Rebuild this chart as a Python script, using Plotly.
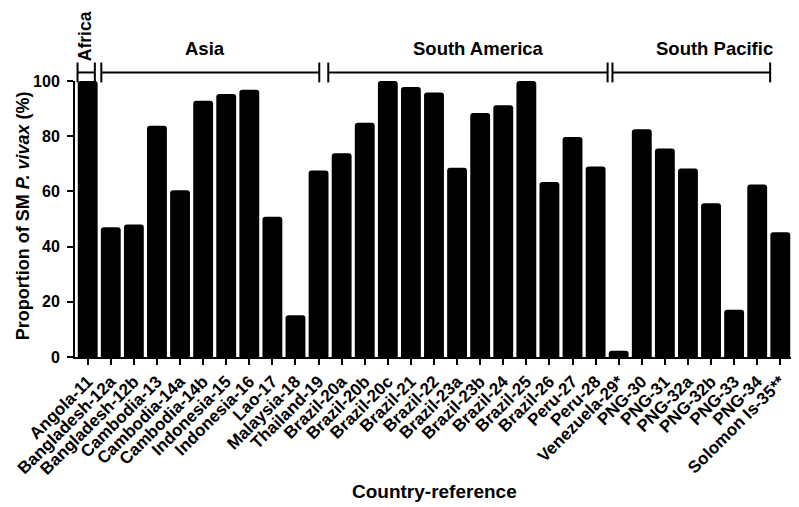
import plotly.graph_objects as go

categories = ["Angola-11", "Bangladesh-12a", "Bangladesh-12b", "Cambodia-13", "Cambodia-14a",
              "Cambodia-14b", "Indonesia-15", "Indonesia-16", "Lao-17", "Malaysia-18",
              "Thailand-19", "Brazil-20a", "Brazil-20b", "Brazil-20c", "Brazil-21", "Brazil-22",
              "Brazil-23a", "Brazil-23b", "Brazil-24", "Brazil-25", "Brazil-26", "Peru-27",
              "Peru-28", "Venezuela-29*", "PNG-30", "PNG-31", "PNG-32a", "PNG-32b", "PNG-33",
              "PNG-34", "Solomon Is-35**"]
values = [100, 47, 48, 83.8, 60.4, 92.8, 95.3, 96.8, 50.8, 15.1, 67.6,
          73.8, 84.9, 100, 97.8, 95.8, 68.6, 88.4, 91.2, 100, 63.4, 79.7, 69, 2.3,
          82.5, 75.5, 68.3, 55.7, 17.1, 62.5, 45.2]

regions = ["Africa", "Asia", "South America", "South Pacific"]
region_start = [-0.44, 0.59, 10.42, 22.73]
region_end = [0.31, 10.03, 22.52, 29.56]
region_label_x = [-0.12, 5.08, 16.94, 27.15]

FONT = "Liberation Sans, Arial, sans-serif"

x_idx = list(range(len(categories)))
fig = go.Figure(go.Bar(x=x_idx, y=values, marker=dict(color="black", line=dict(width=0),
                                                        cornerradius=3),
                       cliponaxis=False))

shapes = []
annotations = []
y_line = 1.031
for name, s, e, lx in zip(regions, region_start, region_end, region_label_x):
    shapes.append(dict(type="line", xref="x", yref="paper", x0=s, x1=e, y0=y_line, y1=y_line,
                       line=dict(color="black", width=2)))
    for xx in (s, e):
        shapes.append(dict(type="line", xref="x", yref="paper", x0=xx, x1=xx,
                           y0=0.995, y1=1.067,
                           line=dict(color="black", width=2)))
    if name == "Africa":
        annotations.append(dict(text="Africa", x=lx, y=1.162, xref="x", yref="paper",
                                xanchor="center", yanchor="middle",
                                showarrow=False, textangle=-90,
                                font=dict(family=FONT, size=17.5, color="black", weight="bold")))
    else:
        annotations.append(dict(text=name, x=lx, y=1.117, xref="x", yref="paper",
                                xanchor="center", yanchor="middle", showarrow=False,
                                font=dict(family=FONT, size=18.5, color="black", weight="bold")))

annotations.append(dict(text="Country-reference", x=0.5, y=-0.489, xref="paper", yref="paper",
                        xanchor="center", yanchor="middle", showarrow=False,
                        font=dict(family=FONT, size=19, color="black", weight="bold")))
annotations.append(dict(text="Proportion of SM <i>P. vivax</i> (%)", x=-0.072, y=0.511,
                        xref="paper", yref="paper", xanchor="center", yanchor="middle",
                        showarrow=False, textangle=-90,
                        font=dict(family=FONT, size=18, color="black", weight="bold")))

fig.update_layout(
    width=791, height=499,
    margin=dict(l=62, r=6, t=72.5, b=149.5),
    paper_bgcolor="white", plot_bgcolor="white",
    bargap=0.14,
    showlegend=False,
    shapes=shapes, annotations=annotations,
    font=dict(family=FONT, color="black"),
    xaxis=dict(range=[-0.55, 30.55], tickmode="array", tickvals=x_idx, ticktext=categories,
               tickangle=-45, ticks="outside", ticklen=6, tickwidth=2, tickcolor="black",
               showline=True, linecolor="black", linewidth=2, showgrid=False, zeroline=False,
               tickfont=dict(family=FONT, size=17, color="black", weight="bold")),
    yaxis=dict(range=[0, 100], tickvals=[0, 20, 40, 60, 80, 100], ticks="outside",
               ticklen=6, tickwidth=2, tickcolor="black", showline=True, linecolor="black",
               linewidth=2, showgrid=False, zeroline=False, ticklabelstandoff=4,
               tickfont=dict(family=FONT, size=16, color="black", weight="bold")),
)

fig.write_html("out.html")
